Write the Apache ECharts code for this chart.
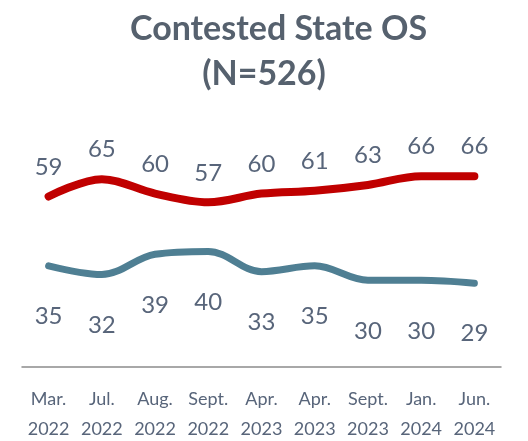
<!DOCTYPE html>
<html>
<head>
<meta charset="utf-8">
<script src="https://cdn.jsdelivr.net/npm/echarts@6/dist/echarts.min.js"></script>
<style>
  html, body { margin: 0; padding: 0; background: #fff; }
  #main { width: 528px; height: 441px; }
</style>
</head>
<body>
<div id="main"></div>
<script>
// survey waves
const waves = ['Mar.\n2022', 'Jul.\n2022', 'Aug.\n2022', 'Sept.\n2022', 'Apr.\n2023', 'Apr.\n2023', 'Sept.\n2023', 'Jan.\n2024', 'Jun.\n2024']
const redVals = [59, 65, 60, 57, 60, 61, 63, 66, 66]
const tealVals = [35, 32, 39, 40, 33, 35, 30, 30, 29]

const FONT = 'Lato'
const TXT = '#58657a'
const titleStyle = {
  color: '#56616e',
  fontFamily: FONT,
  fontWeight: 'bold',
  fontSize: 34
}

const chart = echarts.init(document.getElementById('main'))
chart.setOption({
  animation: false,
  title: [
    { text: 'Contested State OS', left: 125, top: 7, textStyle: titleStyle },
    { text: '(N=526)', left: 'center', top: 52, textStyle: titleStyle }
  ],
  grid: {
    left: 22,
    right: 27,
    top: 78,
    bottom: 74,
    outerBoundsMode: 'none'
  },
  xAxis: {
    type: 'category',
    data: waves,
    boundaryGap: true,
    axisLine: { lineStyle: { color: '#8c8c8c', width: 1.5 } },
    axisTick: { show: false },
    axisLabel: {
      color: TXT,
      fontFamily: FONT,
      fontSize: 18,
      lineHeight: 30,
      margin: 17,
      interval: 0
    }
  },
  yAxis: {
    type: 'value',
    min: 0,
    max: 100,
    show: false,
    splitLine: { show: false }
  },
  series: [
    {
      type: 'line',
      data: redVals,
      smooth: 0.35,
      symbol: 'circle',
      symbolSize: 1,
      itemStyle: { color: 'rgba(0,0,0,0)' },
      lineStyle: { color: '#c00000', width: 8, cap: 'round' },
      label: {
        show: true,
        position: 'top',
        distance: 17,
        color: TXT,
        fontFamily: FONT,
        fontSize: 24
      }
    },
    {
      type: 'line',
      data: tealVals,
      smooth: 0.35,
      symbol: 'circle',
      symbolSize: 1,
      itemStyle: { color: 'rgba(0,0,0,0)' },
      lineStyle: { color: '#4f7f93', width: 7, cap: 'round' },
      label: {
        show: true,
        position: 'bottom',
        distance: 38,
        color: TXT,
        fontFamily: FONT,
        fontSize: 24
      }
    }
  ]
})
</script>
</body>
</html>
